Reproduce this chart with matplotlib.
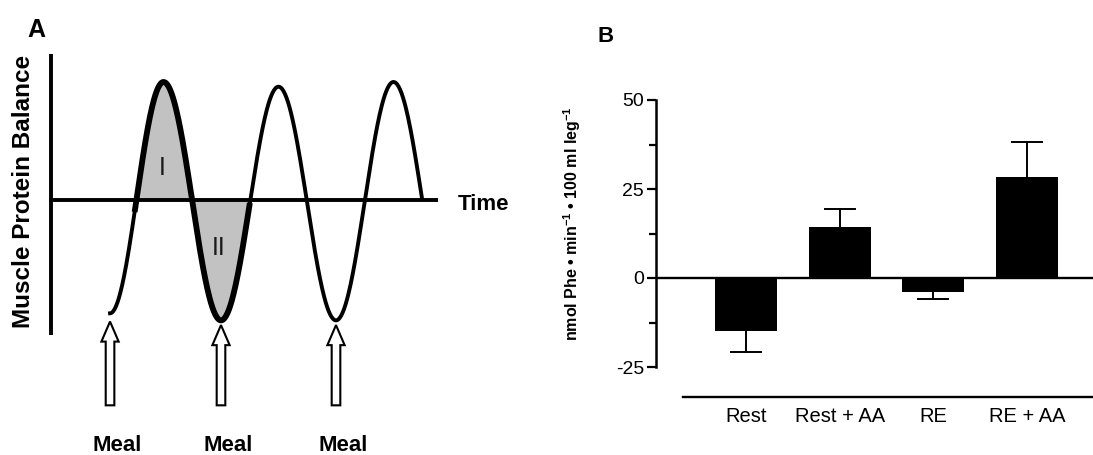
import numpy as np
import matplotlib
matplotlib.use("Agg")
import matplotlib.pyplot as plt
from matplotlib.patches import FancyArrow

plt.rcParams['font.family'] = ['Liberation Sans', 'DejaVu Sans']
plt.rcParams['axes.unicode_minus'] = False
plt.rcParams['mathtext.fontset'] = 'custom'
plt.rcParams['mathtext.bf'] = 'Liberation Sans:bold'
plt.rcParams['mathtext.rm'] = 'Liberation Sans:bold'
plt.rcParams['mathtext.default'] = 'bf'

# ---------------- Panel A data (schematic) ----------------
extrema_t = [0.07, 1, 2, 3, 4, 5, 6]          # times of troughs/peaks
extrema_y = [-0.96, 1.0, -1.02, 0.96, -1.02, 1.0, -1.0]
end_t = 5.5                                    # curve ends at this time
shade_t = (0.5, 2.5)                           # shaded regions I and II
meal_t = [0.07, 2, 4]
meal_tip = [-1.03, -1.06, -1.06]
meal_labels = ["Meal", "Meal", "Meal"]
region_labels = [("I", 0.97, 0.27), ("II", 1.95, -0.41)]

# ---------------- Panel B data ----------------
categories = ["Rest", "Rest + AA", "RE", "RE + AA"]
values = [-15.0, 14.3, -3.9, 28.4]
errors = [5.8, 5.1, 2.0, 9.8]
yticks_B = [-25, 0, 25, 50]

W, H = 1093, 455
fig = plt.figure(figsize=(W / 100, H / 100), dpi=100)

# ---- Panel A axes: t unit = 57.5 px, origin x=106 px; y unit = 118 px, zero at y=200 px
xl = (-1.5, 7.5)
yl = (-2.15, 1.6)
ux, ox = 57.5, 106
uy, oy = 118, 200
left_px = ox + xl[0] * ux
top_px = oy - yl[1] * uy
bot_px = oy - yl[0] * uy
axA = fig.add_axes([left_px / W, 1 - bot_px / H, (xl[1] - xl[0]) * ux / W, (bot_px - top_px) / H])
axA.set_xlim(*xl)
axA.set_ylim(*yl)
axA.axis('off')

# build the curve from the extrema with half-cosine segments
ts, ys = [], []
for i in range(len(extrema_t) - 1):
    t0, t1 = extrema_t[i], extrema_t[i + 1]
    y0, y1 = extrema_y[i], extrema_y[i + 1]
    s = np.linspace(0, 1, 80)
    ts.append(t0 + (t1 - t0) * s)
    ys.append(y0 + (y1 - y0) * (1 - np.cos(np.pi * s)) / 2)
ts = np.concatenate(ts)
ys = np.concatenate(ys)
keep = ts <= end_t
ts, ys = ts[keep], ys[keep]

# shading
m = (ts >= shade_t[0]) & (ts <= shade_t[1])
axA.fill_between(ts[m], 0, ys[m], color='#c2c2c2', lw=0, zorder=1)

# axes lines
axA.plot([-1.0, 5.77], [0, 0], color='black', lw=2.8, zorder=2, solid_capstyle='butt')
axA.plot([-0.96, -0.96], [-1.14, 1.24], color='black', lw=2.8, zorder=2, solid_capstyle='butt')

# curve
axA.plot(ts, ys, color='black', lw=2.8, zorder=3)
axA.plot(ts[m], ys[m], color='black', lw=4.2, zorder=3)

for txt, tx, ty in region_labels:
    axA.text(tx, ty, txt, ha='center', va='center', fontsize=18, color='#1a1a1a', zorder=4)

# meal arrows
for i, t in enumerate(meal_t):
    tip = meal_tip[i]
    tail = -1.74
    arr = FancyArrow(t, tail, 0, tip - tail, width=0.15, head_width=0.3, head_length=0.17,
                     length_includes_head=True, facecolor='white', edgecolor='black', lw=1.5,
                     zorder=5)
    axA.add_patch(arr)
    axA.text(t + 0.13, -2.08, meal_labels[i], ha='center', va='center', fontsize=16, fontweight='bold')

axA.text(6.12, -0.04, "Time", ha='left', va='center', fontsize=16, fontweight='bold')
axA.text(-1.43, 0.07, "Muscle Protein Balance", ha='center', va='center', rotation=90,
         fontsize=17.5, fontweight='bold')

fig.text(36 / W, 1 - 30 / H, "A", ha='center', va='center', fontsize=18, fontweight='bold')
fig.text(606 / W, 1 - 37 / H, "B", ha='center', va='center', fontsize=16, fontweight='bold')

# ---- Panel B
x0_px, x1_px = 656, 1093
y_top, y_bot = 100, 367
axB = fig.add_axes([x0_px / W, 1 - y_bot / H, (x1_px - x0_px) / W, (y_bot - y_top) / H])
spacing = 93.7
first_c = 746
axB.set_xlim((x0_px - first_c) / spacing, (x1_px - first_c) / spacing)
axB.set_ylim(-25, 50)
x = np.arange(len(categories))
axB.bar(x, values, width=0.66, color='black', zorder=2)
capw = 0.16
for xi, v, e in zip(x, values, errors):
    end = v + np.sign(v) * e
    axB.plot([xi, xi], [v, end], color='black', lw=1.4, zorder=1)
    axB.plot([xi - capw, xi + capw], [end, end], color='black', lw=1.4, zorder=1)
axB.axhline(0, color='black', lw=1.7, zorder=3)

for s in ['top', 'right']:
    axB.spines[s].set_visible(False)
axB.spines['left'].set_linewidth(1.8)
axB.spines['bottom'].set_linewidth(1.7)
axB.spines['bottom'].set_position(('outward', 21.6))
axB.spines['bottom'].set_bounds((683 - first_c) / spacing, (x1_px - first_c) / spacing)
axB.set_yticks(yticks_B)
axB.set_yticklabels([str(v) for v in yticks_B])
axB.set_yticks([-12.5, 12.5, 37.5], minor=True)
axB.tick_params(axis='y', which='major', length=6.5, width=1.6, direction='out', pad=2, labelsize=14)
axB.tick_params(axis='y', which='minor', length=5, width=1.6, direction='out')
axB.set_xticks(x)
axB.set_xticklabels(categories)
axB.tick_params(axis='x', length=0, pad=7, labelsize=14.5)
axB.set_ylabel(r"nmol Phe • min$^{-1}$ • 100 ml leg$^{-1}$", fontsize=11.5, fontweight='bold')
axB.yaxis.set_label_coords((583 - x0_px) / (x1_px - x0_px), (y_bot - 224) / (y_bot - y_top))

fig.savefig("out.png", dpi=100)
